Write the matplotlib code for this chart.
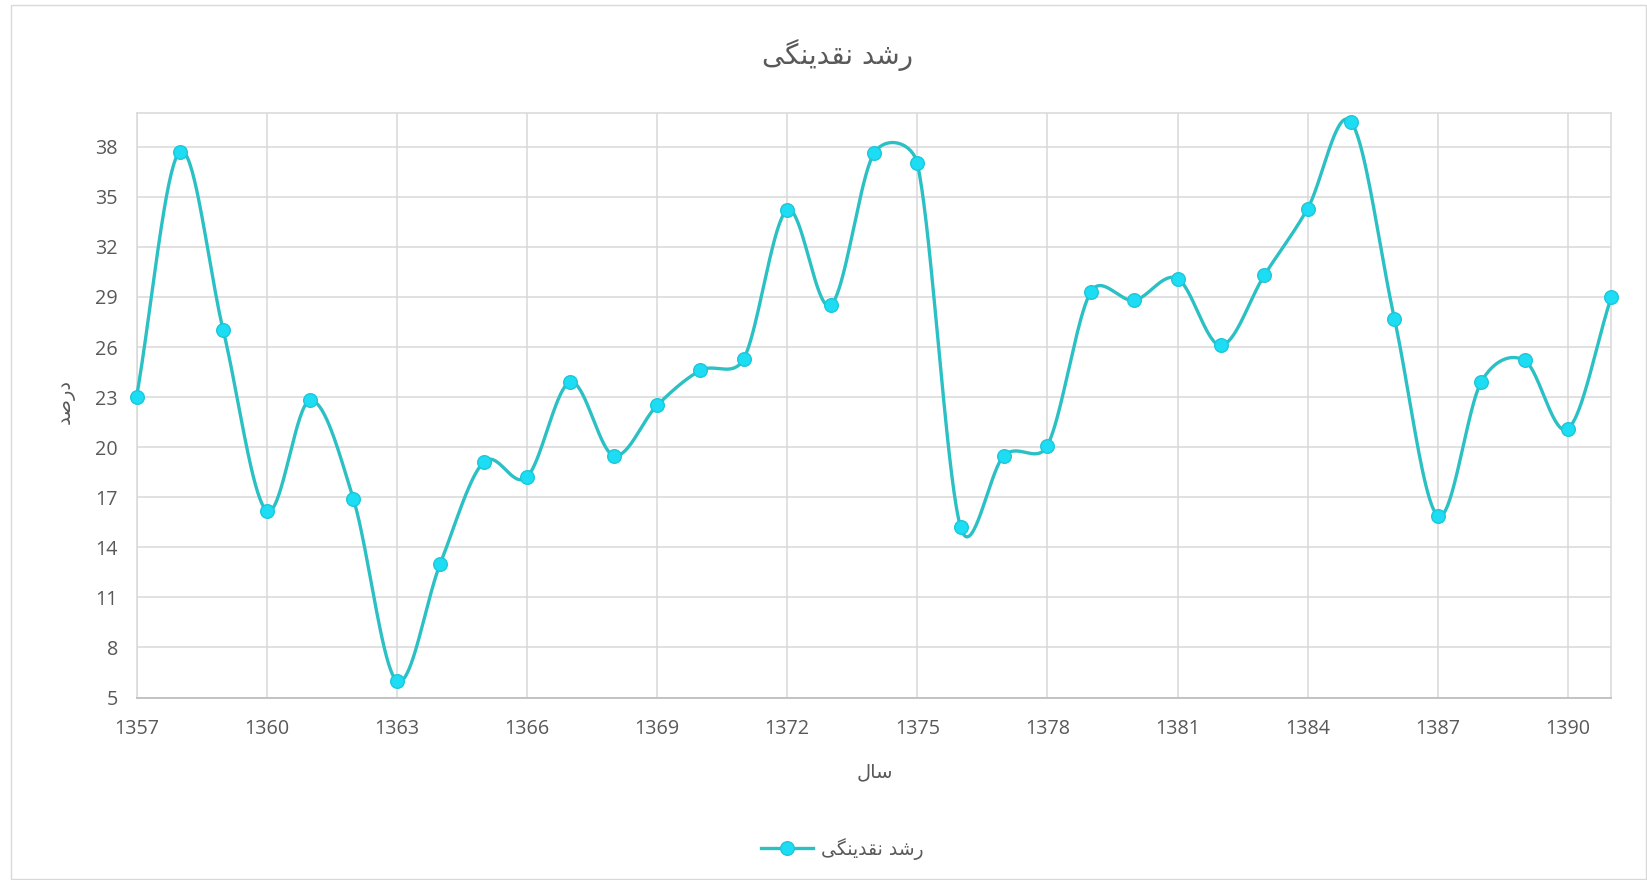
import numpy as np
import matplotlib
matplotlib.use("Agg")
import matplotlib.pyplot as plt
from matplotlib.patches import Rectangle
from matplotlib.lines import Line2D

plt.rcParams['font.family'] = ['Open Sans', 'DejaVu Sans']

# ---------------- data ----------------
years = list(range(1357, 1392))
growth = [23.0, 37.7, 27.0, 16.2, 22.8, 16.9, 6.0, 13.0, 19.1, 18.2,
          23.9, 19.5, 22.5, 24.6, 25.3, 34.2, 28.5, 37.6, 37.0, 15.2,
          19.5, 20.1, 29.3, 28.8, 30.1, 26.1, 30.3, 34.3, 39.5, 27.7,
          15.9, 23.9, 25.2, 21.1, 29.0]
x_ticks = list(range(1357, 1392, 3))
y_ticks = list(range(5, 39, 3))

# Persian text (pre-shaped presentation forms, visual order)
title_txt = "\uFBFD\uFB95\uFEE8\uFBFE\uFEAA\uFED8\uFEE7 \uFEAA\uFEB7\uFEAD"   # رشد نقدینگی
ylabel_txt = "\uFEAA\uFEBB\uFEAD\uFEA9"   # درصد
xlabel_txt = "\uFEDD\uFE8E\uFEB3"          # سال

line_color = '#2BC0C4'
marker_face = '#1CDDF3'
marker_edge = '#1FC6DA'
text_gray = '#595959'
grid_gray = '#D9D9D9'

W, H = 1647, 880
fig = plt.figure(figsize=(W / 100, H / 100), dpi=100)

# outer chart border
fig.patches.append(Rectangle((10.5 / W, 1 / H), (W - 12) / W, (H - 6.5) / H,
                             transform=fig.transFigure, fill=False,
                             edgecolor='#D9D9D9', linewidth=1))

left, right, top, bottom = 136.5, 1611.3, 113.4, 697.5
ax = fig.add_axes([left / W, 1 - bottom / H, (right - left) / W, (bottom - top) / H])
ax.set_xlim(1357, 1391)
ax.set_ylim(5, 40)

# Excel-like smoothed line: Catmull-Rom Bezier handles, clamped to half segment length
sx = (right - left) / 34.0
sy = (bottom - top) / 35.0
P = np.column_stack([(np.array(years, float) - 1357) * sx, (np.array(growth, float) - 5) * sy])
n = len(P)


def clamp(vec, maxlen):
    L = np.linalg.norm(vec)
    if L > maxlen and L > 0:
        return vec * (maxlen / L)
    return vec


t = np.linspace(0, 1, 40)[:, None]
curve = []
for i in range(n - 1):
    p0 = P[max(i - 1, 0)]
    p1 = P[i]
    p2 = P[i + 1]
    p3 = P[min(i + 2, n - 1)]
    seg = np.linalg.norm(p2 - p1)
    f = 1 / 3 if i == 0 else 1 / 6
    g = 1 / 3 if i + 2 > n - 1 else 1 / 6
    h1 = clamp((p2 - p0) * f, seg / 2)
    h2 = clamp((p3 - p1) * g, seg / 2)
    c1 = p1 + h1
    c2 = p2 - h2
    b = (1 - t) ** 3 * p1 + 3 * (1 - t) ** 2 * t * c1 + 3 * (1 - t) * t ** 2 * c2 + t ** 3 * p2
    curve.append(b)
curve = np.vstack(curve)
cx = curve[:, 0] / sx + 1357
cy = curve[:, 1] / sy + 5

ax.plot(cx, cy, color=line_color, linewidth=2.4, zorder=3, solid_capstyle='round',
        clip_on=False)
ax.plot(years, growth, linestyle='none', marker='o', markersize=9.8,
        markerfacecolor=marker_face, markeredgecolor=marker_edge,
        markeredgewidth=1.0, zorder=4, clip_on=False)

ax.set_xticks(x_ticks)
ax.set_yticks(y_ticks)
ax.grid(True, color=grid_gray, linewidth=1.1)
ax.set_axisbelow(True)
ax.tick_params(axis='both', length=0, labelsize=14.2, colors=text_gray)
ax.tick_params(axis='x', pad=15.5)
ax.tick_params(axis='y', pad=13.5)
for s in ['top', 'right', 'left']:
    ax.spines[s].set_color(grid_gray)
    ax.spines[s].set_linewidth(1.1)
ax.spines['bottom'].set_color('#BFBFBF')
ax.spines['bottom'].set_linewidth(1.3)

fig.text(838 / W, 1 - 55 / H, title_txt, ha='center', va='center',
         fontsize=20, color=text_gray, family=['DejaVu Sans'])
fig.text(875 / W, 1 - 772 / H, xlabel_txt, ha='center', va='center',
         fontsize=14, color=text_gray, family=['DejaVu Sans'])
fig.text(65 / W, 1 - 401 / H, ylabel_txt, ha='center', va='center', rotation=90,
         fontsize=14, color=text_gray, family=['DejaVu Sans'])

handle = Line2D([], [], color=line_color, linewidth=2.4, marker='o', markersize=9.8,
                markerfacecolor=marker_face, markeredgecolor=marker_edge)
leg = fig.legend([handle], [title_txt], loc='center', bbox_to_anchor=(842 / W, 1 - 849 / H),
                 frameon=False, handlelength=2.8, handletextpad=0.4,
                 prop={'family': 'DejaVu Sans', 'size': 13.5})
for txt in leg.get_texts():
    txt.set_color(text_gray)

fig.savefig('out.png', dpi=100, facecolor='white')
